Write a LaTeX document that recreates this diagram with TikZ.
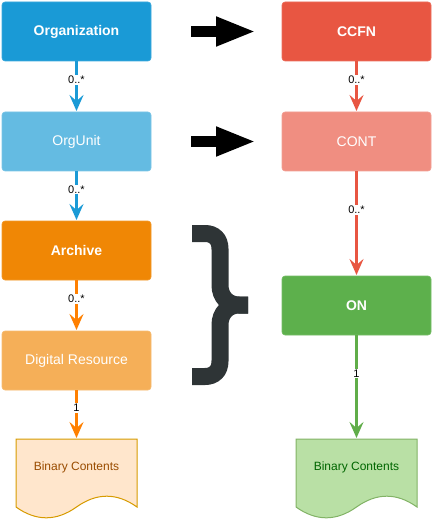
\documentclass[tikz,border=0pt]{standalone}
\usepackage{fontspec}
\setmainfont{Liberation Sans}
\usetikzlibrary{arrows.meta}

\definecolor{orgblue}{HTML}{1A9AD6}
\definecolor{unitblue}{HTML}{64BBE2}
\definecolor{archorange}{HTML}{F08705}
\definecolor{resorange}{HTML}{F5AF58}
\definecolor{linkorange}{HTML}{FF8000}
\definecolor{ccfnred}{HTML}{E85642}
\definecolor{contred}{HTML}{F08E81}
\definecolor{ongreen}{HTML}{5DB04C}
\definecolor{linkgreen}{HTML}{60AD49}
\definecolor{docorange}{HTML}{FFE6CC}
\definecolor{docorangeline}{HTML}{D79B00}
\definecolor{docorangetext}{HTML}{994C00}
\definecolor{docgreen}{HTML}{B9E0A5}
\definecolor{docgreenline}{HTML}{82B366}
\definecolor{docgreentext}{HTML}{006600}
\definecolor{bracegray}{HTML}{2E3436}

\tikzset{
    entity/.style={rectangle, rounded corners=3pt, minimum width=149pt, minimum height=59pt,
        inner sep=0pt, outer sep=0pt, text=white, line width=0.6pt, font=\fontsize{14}{16}\selectfont},
    bold entity/.style={font=\fontsize{14}{16}\selectfont\bfseries},
    link/.style={line width=3pt, -{Stealth[length=16pt,width=14pt,inset=6pt]}, shorten >=1pt},
    card/.style={pos=0.37, fill=white, inner sep=1pt, text=black, font=\fontsize{11}{13}\selectfont},
    maps/.style={line width=11pt, -{Triangle[length=40pt,width=27pt]}, shorten <=40pt, shorten >=26pt},
    brace/.style={line width=17pt, draw=bracegray},
    doclabel/.style={font=\fontsize{12}{14}\selectfont},
    bindoc/.pic={
        \path[pic actions] (-60.5,0) -- (60.5,0) -- (60.5,68)
            .. controls (40.33,53.6) and (20.17,53.6) .. (0,68)
            .. controls (-20.17,82.4) and (-40.33,82.4) .. (-60.5,68) -- cycle;
        \coordinate (-top) at (0,0);
    }
}

\begin{document}
\begin{tikzpicture}[x=1pt, y=-1pt]
    \useasboundingbox (0,0) rectangle (433,521);

    % left column
    \node[entity, bold entity, fill=orgblue, draw=orgblue!85!white] (org) at (76.5,31.5) {Organization};
    \node[entity, fill=unitblue, draw=unitblue!85!white] (orgunit) at (76.5,141.5) {OrgUnit};
    \node[entity, bold entity, fill=archorange, draw=archorange!85!white] (archive) at (76.5,250.5) {Archive};
    \node[entity, fill=resorange, draw=resorange!85!white] (dres) at (76.5,360.5) {Digital Resource};
    \pic[draw=docorangeline, fill=docorange, line width=1pt] (docA) at (76.5,439) {bindoc};
    \node[doclabel, text=docorangetext] (binA) at (76.5,467) {Binary Contents};

    % right column
    \node[entity, bold entity, fill=ccfnred, draw=ccfnred!85!white] (ccfn) at (356.5,31.5) {CCFN};
    \node[entity, fill=contred, draw=contred!85!white] (cont) at (356.5,141.5) {CONT};
    \node[entity, bold entity, fill=ongreen, draw=ongreen!85!white] (on) at (356.5,305.5) {ON};
    \pic[draw=docgreenline, fill=docgreen, line width=1pt] (docB) at (356.5,439) {bindoc};
    \node[doclabel, text=docgreentext] (binB) at (356.5,467) {Binary Contents};

    % containment
    \draw[link, draw=orgblue] (org) -- node[card] {0..*} (orgunit);
    \draw[link, draw=orgblue] (orgunit) -- node[card] {0..*} (archive);
    \draw[link, draw=linkorange] (archive) -- node[card] {0..*} (dres);
    \draw[link, draw=linkorange] (dres) -- node[card] {1} (docA-top);
    \draw[link, draw=ccfnred] (ccfn) -- node[card] {0..*} (cont);
    \draw[link, draw=ccfnred] (cont) -- node[card] {0..*} (on);
    \draw[link, draw=linkgreen] (on) -- node[card] {1} (docB-top);

    % mapping
    \draw[maps] (org) -- (ccfn);
    \draw[maps] (orgunit) -- (cont);
    \draw[brace] (192,233.5) -- (205,233.5) .. controls (214,233.5) and (220,239) .. (220,249)
        -- (220,285) .. controls (220,297) and (228,305) .. (239,305) -- (248,305);
    \draw[brace] (248,305) -- (239,305) .. controls (228,305) and (220,313) .. (220,325)
        -- (220,361) .. controls (220,371) and (214,376.5) .. (205,376.5) -- (192,376.5);
\end{tikzpicture}
\end{document}
